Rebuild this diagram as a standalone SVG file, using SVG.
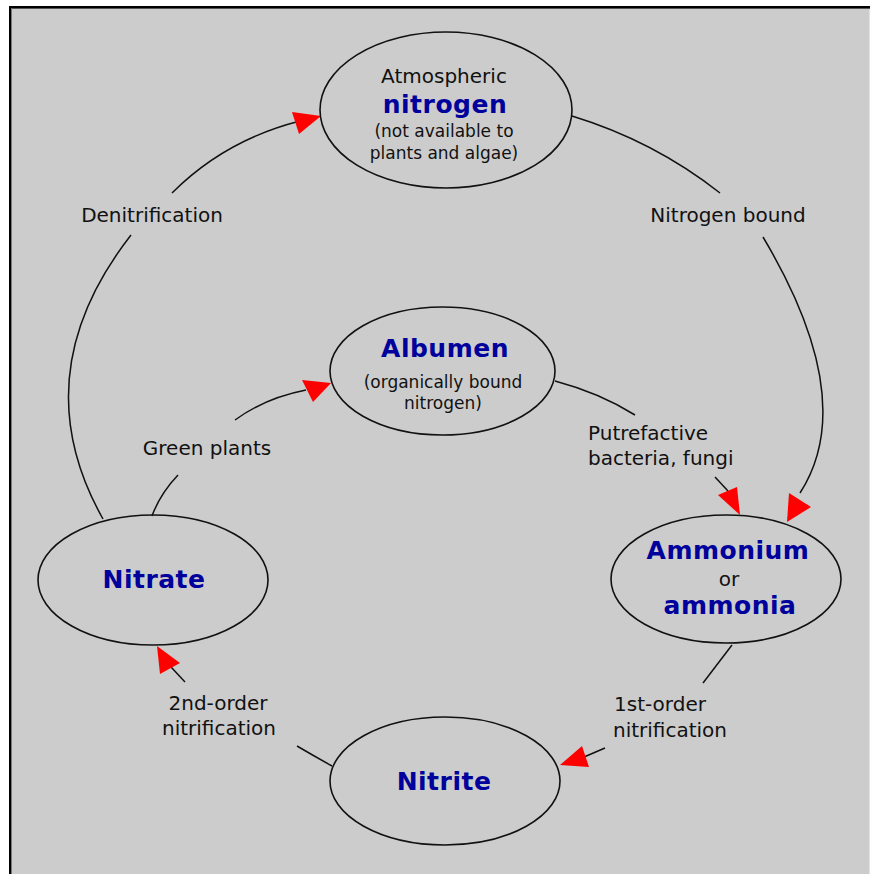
<svg xmlns="http://www.w3.org/2000/svg" width="870" height="874" viewBox="0 0 870 874">
<style>
.node{fill:none;stroke:#111;stroke-width:1.6}
.con{fill:none;stroke:#111;stroke-width:1.5}
.arrow{fill:#ff0000;stroke:none}
.lbl{font-family:"DejaVu Sans",sans-serif;font-size:20px;fill:#111}
.sm{font-family:"DejaVu Sans",sans-serif;font-size:17px;fill:#111}
.big{font-family:"DejaVu Sans",sans-serif;font-size:25px;font-weight:bold;fill:#00009c;letter-spacing:0.5px}
</style>
<rect x="0" y="0" width="870" height="874" fill="#ffffff"/>
<rect x="9" y="6" width="861" height="868" fill="#cccccc"/>
<line x1="9" y1="7" x2="870" y2="7" stroke="#000" stroke-width="2"/>
<line x1="9" y1="8.5" x2="870" y2="8.5" stroke="#555" stroke-width="1"/>
<line x1="10" y1="6" x2="10" y2="874" stroke="#000" stroke-width="2"/>
<line x1="11.5" y1="8" x2="11.5" y2="874" stroke="#777" stroke-width="1"/>
<line x1="869.5" y1="9" x2="869.5" y2="874" stroke="#e2e2e2" stroke-width="1"/>

<g id="connectors">
  <path class="con" d="M103,519 Q22,375 131,235"/>
  <path class="con" d="M172,193 Q225,140 300,121"/>
  <polygon class="arrow" points="321,116 292,112 299,134"/>
  <text class="lbl" x="152" y="222" text-anchor="middle">Denitrification</text>

  <path class="con" d="M572,116 Q654,141 720,193"/>
  <path class="con" d="M763,237 Q860,400 800,493"/>
  <polygon class="arrow" points="787,522 789,493 811,507"/>
  <text class="lbl" x="728" y="222" text-anchor="middle">Nitrogen bound</text>

  <path class="con" d="M555,381 Q600,393 635,415"/>
  <path class="con" d="M715,477 L728,491"/>
  <polygon class="arrow" points="740,515 718,495 737,487"/>
  <text class="lbl" x="588" y="440">Putrefactive</text>
  <text class="lbl" x="588" y="465">bacteria, fungi</text>

  <path class="con" d="M152,516 Q160,494 178,475"/>
  <path class="con" d="M235,420 Q265,398 306,390"/>
  <polygon class="arrow" points="331,383 302,380 313,402"/>
  <text class="lbl" x="207" y="455" text-anchor="middle">Green plants</text>

  <path class="con" d="M732,645 L703,683"/>
  <path class="con" d="M605,748 L584,757"/>
  <polygon class="arrow" points="560,765 582,746 589,767"/>
  <text class="lbl" x="614" y="711">1st-order</text>
  <text class="lbl" x="613" y="737">nitrification</text>

  <path class="con" d="M297,746 Q314,756 332,766"/>
  <path class="con" d="M185,682 L171,667"/>
  <polygon class="arrow" points="157,646 160,674 180,663"/>
  <text class="lbl" x="218" y="710" text-anchor="middle">2nd-order</text>
  <text class="lbl" x="219" y="735" text-anchor="middle">nitrification</text>
</g>

<g id="atmospheric">
  <ellipse class="node" cx="446" cy="110" rx="126" ry="78"/>
  <text class="lbl" x="444" y="83" text-anchor="middle">Atmospheric</text>
  <text class="big" x="445" y="113" text-anchor="middle">nitrogen</text>
  <text class="sm" x="444" y="137" text-anchor="middle">(not available to</text>
  <text class="sm" x="444" y="159" text-anchor="middle">plants and algae)</text>
</g>

<g id="albumen">
  <ellipse class="node" cx="442.5" cy="371" rx="112.5" ry="64"/>
  <text class="big" x="445" y="357" text-anchor="middle">Albumen</text>
  <text class="sm" x="443" y="388" text-anchor="middle">(organically bound</text>
  <text class="sm" x="443" y="409" text-anchor="middle">nitrogen)</text>
</g>

<g id="ammonium">
  <ellipse class="node" cx="726" cy="579" rx="115" ry="64"/>
  <text class="big" x="728" y="559" text-anchor="middle">Ammonium</text>
  <text class="lbl" x="729" y="586" text-anchor="middle">or</text>
  <text class="big" x="730" y="614" text-anchor="middle">ammonia</text>
</g>

<g id="nitrate">
  <ellipse class="node" cx="153" cy="580" rx="115" ry="65"/>
  <text class="big" x="154" y="588" text-anchor="middle">Nitrate</text>
</g>

<g id="nitrite">
  <ellipse class="node" cx="445" cy="781" rx="115" ry="64"/>
  <text class="big" x="444" y="790" text-anchor="middle">Nitrite</text>
</g>
</svg>
